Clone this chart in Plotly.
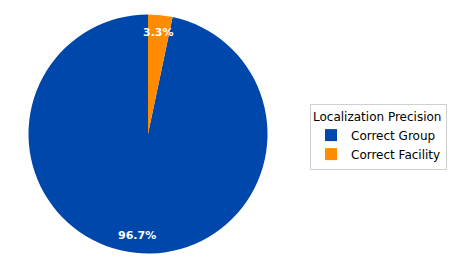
import math
import plotly.graph_objects as go

labels = ["Correct Group", "Correct Facility"]
values = [96.7, 3.3]
colors = ["#0047AB", "#FF8C00"]
legend_title = "Localization Precision"

W, H = 475, 267
cx, cy, r = 148.0, 134.0, 119.5  # pixel layout of pie

total = sum(values)
rot = 360.0 * values[1] / total

fig = go.Figure(go.Pie(
    labels=labels, values=values, sort=False,
    direction="clockwise", rotation=rot,
    marker=dict(colors=colors, line=dict(width=0)),
    textinfo="none", hoverinfo="label+percent",
    domain=dict(x=[(cx - r) / W, (cx + r) / W], y=[1 - (cy + r) / H, 1 - (cy - r) / H]),
))

start = 90.0
annotations = []
for v in values:
    span = 360.0 * v / total
    mid = math.radians(start + span / 2)
    start += span
    px = cx + 0.85 * r * math.cos(mid)
    py = cy - 0.85 * r * math.sin(mid)
    annotations.append(dict(
        x=px / W, y=1 - py / H, xref="paper", yref="paper",
        text=f"<b>{v / total * 100:.1f}%</b>", showarrow=False,
        font=dict(family="DejaVu Sans", size=11, color="white"),
        xanchor="center", yanchor="middle",
    ))

fig.update_layout(
    width=W, height=H, margin=dict(l=0, r=0, t=0, b=0),
    paper_bgcolor="white", plot_bgcolor="white",
    annotations=annotations,
    font=dict(family="DejaVu Sans", size=12, color="black"),
    legend=dict(
        title=dict(text=legend_title, font=dict(size=12)),
        x=310 / W, y=1 - 104 / H, xanchor="left", yanchor="top",
        bordercolor="#d0d0d0", borderwidth=1, bgcolor="white",
        font=dict(size=12), traceorder="normal",
    ),
)

fig.write_html("out.html")
